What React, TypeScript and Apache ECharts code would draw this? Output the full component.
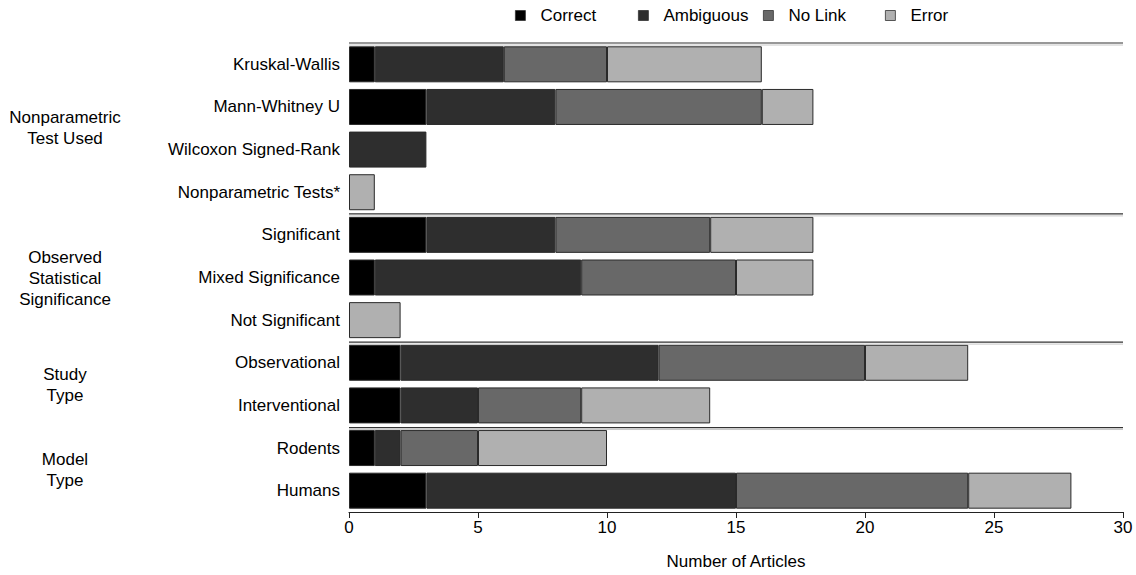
import React, { useEffect, useRef } from "react";
import * as echarts from "echarts";

// Categories, top to bottom
const categories = [
  "Kruskal-Wallis",
  "Mann-Whitney U",
  "Wilcoxon Signed-Rank",
  "Nonparametric Tests*",
  "Significant",
  "Mixed Significance",
  "Not Significant",
  "Observational",
  "Interventional",
  "Rodents",
  "Humans",
];

// Group headings and how many consecutive categories each covers
const groupLabels = [
  "Nonparametric\nTest Used",
  "Observed\nStatistical\nSignificance",
  "Study\nType",
  "Model\nType",
];
const groupSizes = [4, 3, 2, 2];

const seriesNames = ["Correct", "Ambiguous", "No Link", "Error"];
const correct = [1, 3, 0, 0, 3, 1, 0, 2, 2, 1, 3];
const ambiguous = [5, 5, 3, 0, 5, 8, 0, 10, 3, 1, 12];
const noLink = [4, 8, 0, 0, 6, 6, 0, 8, 4, 3, 9];
const errorCounts = [6, 2, 0, 1, 4, 3, 2, 4, 5, 5, 4];
const seriesValues = [correct, ambiguous, noLink, errorCounts];
const seriesColors = ["#000000", "#2e2e2e", "#686868", "#b0b0b0"];

const xTicks = { min: 0, max: 30, interval: 5 };

const W = 1136;
const H = 575;
const GRID = { left: 349, right: 13, top: 43, bottom: 62 };
const FONT = '"Liberation Sans", Arial, sans-serif';
const LEGEND_LEFT = [510, 633, 758, 880];

export default function App() {
  const ref = useRef<HTMLDivElement>(null);

  useEffect(() => {
    if (!ref.current) return;
    const chart = echarts.init(ref.current, null, { renderer: "svg" });

    const plotH = H - GRID.top - GRID.bottom;
    const band = plotH / categories.length;
    const x0 = GRID.left;
    const x1 = W - GRID.right;

    // Separator lines at each group's top edge, and group headings
    const graphics: any[] = [];
    let row = 0;
    groupSizes.forEach((size, i) => {
      const yTop = GRID.top + row * band;
      graphics.push({
        type: "line",
        shape: { x1: x0, y1: yTop, x2: x1, y2: yTop },
        style: { stroke: "#333333", lineWidth: 1.2 },
        z: 10,
      });
      graphics.push({
        type: "line",
        shape: { x1: x0, y1: yTop + 2, x2: x1, y2: yTop + 2 },
        style: { stroke: "#c8c8c8", lineWidth: 1 },
        z: 9,
      });
      const yMid = yTop + (size * band) / 2;
      graphics.push({
        type: "text",
        x: 65,
        y: yMid,
        style: {
          text: groupLabels[i],
          font: `17px ${FONT}`,
          fill: "#000",
          align: "center",
          verticalAlign: "middle",
          lineHeight: 21,
        },
      });
      row += size;
    });

    const legends = seriesNames.map((name, i) => ({
      data: [name],
      left: LEGEND_LEFT[i],
      top: 2,
      icon: "rect",
      itemWidth: 10,
      itemHeight: 10,
      itemStyle: { borderColor: "#333", borderWidth: 0.8 },
      textStyle: {
        fontFamily: FONT,
        fontSize: 17,
        color: "#000",
        padding: [0, 0, 0, 10],
      },
      selectedMode: false,
    }));

    chart.setOption({
      animation: false,
      backgroundColor: "#ffffff",
      legend: legends,
      grid: { ...GRID, containLabel: false },
      xAxis: {
        type: "value",
        min: xTicks.min,
        max: xTicks.max,
        interval: xTicks.interval,
        name: "Number of Articles",
        nameLocation: "middle",
        nameGap: 41,
        nameTextStyle: { fontFamily: FONT, fontSize: 17, color: "#000" },
        axisLine: { show: true, lineStyle: { color: "#222", width: 1.2 } },
        axisTick: { show: true, length: 6, lineStyle: { color: "#222" } },
        axisLabel: { fontFamily: FONT, fontSize: 17, color: "#000", margin: 7 },
        splitLine: { show: false },
      },
      yAxis: {
        type: "category",
        data: categories,
        inverse: true,
        axisLine: { show: false },
        axisTick: { show: false },
        axisLabel: { fontFamily: FONT, fontSize: 17, color: "#000", margin: 9 },
      },
      series: seriesNames.map((name, i) => ({
        name,
        type: "bar",
        stack: "total",
        barWidth: 36,
        data: seriesValues[i].map((v) => (v === 0 ? null : v)),
        itemStyle: {
          color: seriesColors[i],
          borderColor: "#2a2a2a",
          borderWidth: 1,
        },
      })),
      graphic: graphics,
    });

    return () => chart.dispose();
  }, []);

  return (
    <div
      ref={ref}
      style={{ position: "fixed", left: 0, top: 0, width: W, height: H, background: "#fff" }}
    />
  );
}
